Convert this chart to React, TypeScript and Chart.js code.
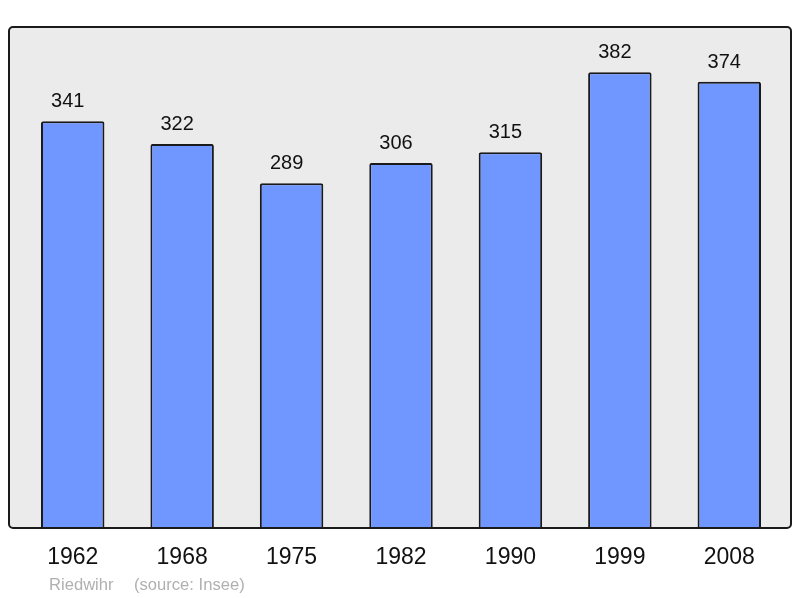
import { useEffect, useRef } from "react";
import { Chart, registerables } from "chart.js";

Chart.register(...registerables);

const years = ["1962", "1968", "1975", "1982", "1990", "1999", "2008"];
const population = [341, 322, 289, 306, 315, 382, 374];
const commune = "Riedwihr";
const source = "(source: Insee)";

const FONT = "'Liberation Sans', Arial, sans-serif";

const framePlugin = {
  id: "frame",
  beforeDatasetsDraw(chart: Chart) {
    const { ctx, chartArea } = chart;
    ctx.save();
    ctx.beginPath();
    ctx.roundRect(9, chartArea.top, chart.width - 18, chartArea.bottom - chartArea.top, 4);
    ctx.fillStyle = "#ebebeb";
    ctx.fill();
    ctx.restore();
  },
  afterDatasetsDraw(chart: Chart) {
    const { ctx, chartArea } = chart;
    ctx.save();
    ctx.beginPath();
    ctx.roundRect(9, chartArea.top, chart.width - 18, chartArea.bottom - chartArea.top, 4);
    ctx.lineWidth = 2;
    ctx.strokeStyle = "#1a1a1a";
    ctx.stroke();

    // value labels above bars (sit a little left of the bar centre)
    const meta = chart.getDatasetMeta(0);
    ctx.fillStyle = "#111";
    ctx.font = `20px ${FONT}`;
    ctx.textAlign = "center";
    ctx.textBaseline = "alphabetic";
    meta.data.forEach((bar: any, i: number) => {
      ctx.fillText(String(population[i]), bar.x - 5, bar.y - 14);
    });

    // footer
    ctx.fillStyle = "#b0b0b0";
    ctx.font = `16.6px ${FONT}`;
    ctx.textAlign = "left";
    ctx.fillText(commune, 49, 590);
    ctx.fillText(source, 134, 590);
    ctx.restore();
  },
};

export default function App() {
  const canvasRef = useRef<HTMLCanvasElement>(null);
  const chartRef = useRef<Chart | null>(null);

  useEffect(() => {
    if (!canvasRef.current) return;
    if (chartRef.current) {
      chartRef.current.destroy();
      chartRef.current = null;
    }

    chartRef.current = new Chart(canvasRef.current, {
      type: "bar",
      data: {
        labels: years,
        datasets: [
          {
            data: population,
            backgroundColor: "#7096ff",
            borderColor: "#1a1a1a",
            borderWidth: 2,
            borderRadius: 2,
            borderSkipped: "bottom",
            barPercentage: 0.58,
            categoryPercentage: 1,
          },
        ],
      },
      options: {
        animation: false,
        responsive: true,
        maintainAspectRatio: false,
        layout: { padding: { left: 18, right: 16, top: 27, bottom: 0 } },
        plugins: {
          legend: { display: false },
          tooltip: { enabled: false },
        },
        scales: {
          x: {
            grid: { display: false },
            border: { display: false },
            ticks: {
              color: "#111",
              font: { family: FONT, size: 23 },
              padding: 8,
              maxRotation: 0,
            },
            afterFit: (scale: any) => {
              scale.height = 70;
            },
          },
          y: {
            display: false,
            min: 0,
            max: 420,
          },
        },
      },
      plugins: [framePlugin],
    });

    return () => {
      chartRef.current?.destroy();
      chartRef.current = null;
    };
  }, []);

  return (
    <div style={{ position: "absolute", left: 0, top: 0, width: "800px", height: "598px", background: "#fff" }}>
      <canvas ref={canvasRef} />
    </div>
  );
}
